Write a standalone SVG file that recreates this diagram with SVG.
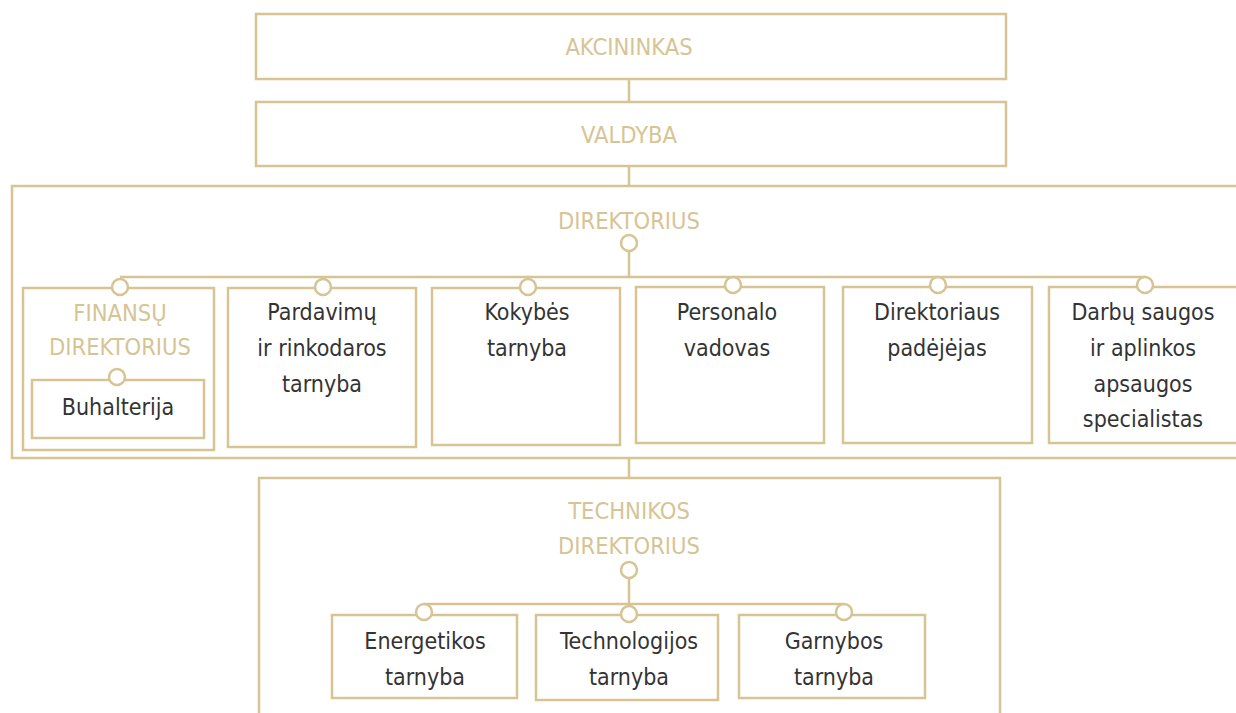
<svg xmlns="http://www.w3.org/2000/svg" width="1236" height="713" viewBox="0 0 1236 713">
<style>
.box{fill:none;stroke:#d6c495;stroke-width:2.5}
.ln{stroke:#d6c495;stroke-width:2.5;fill:none}
.dot{fill:#fff;stroke:#d6c495;stroke-width:2.5}
text{font-family:"DejaVu Sans Condensed","DejaVu Sans",sans-serif;font-stretch:condensed;font-size:23px;text-anchor:middle}
.g{fill:#d6c495;font-size:23.5px}
.d{fill:#333}
</style>
<rect width="1236" height="713" fill="#fff"/>
<g id="connectors">
<line class="ln" x1="629" y1="79" x2="629" y2="102"/>
<line class="ln" x1="629" y1="166" x2="629" y2="186"/>
<line class="ln" x1="629" y1="251" x2="629" y2="277"/>
<line class="ln" x1="120" y1="277" x2="1145" y2="277"/>
<line class="ln" x1="629" y1="458" x2="629" y2="478"/>
<line class="ln" x1="629" y1="578" x2="629" y2="604"/>
<line class="ln" x1="424" y1="604" x2="844" y2="604"/>
</g>
<g id="akcininkas">
<rect class="box" x="256" y="14" width="750" height="65"/>
<text class="g" x="629" y="55">AKCININKAS</text>
</g>
<g id="valdyba">
<rect class="box" x="256" y="102" width="750" height="64"/>
<text class="g" x="629" y="143">VALDYBA</text>
</g>
<g id="direktorius">
<rect class="box" x="12" y="186" width="1240" height="272"/>
<text class="g" x="629" y="229">DIREKTORIUS</text>
<circle class="dot" cx="629" cy="243" r="8"/>
</g>
<g id="finansu">
<rect class="box" x="23" y="288" width="191" height="162"/>
<circle class="dot" cx="120" cy="287" r="8"/>
<text class="g" x="120" y="321">FINANSŲ</text>
<text class="g" x="120" y="355">DIREKTORIUS</text>
</g>
<g id="buhalterija">
<rect class="box" x="32" y="380" width="172" height="58"/>
<circle class="dot" cx="117" cy="377" r="8"/>
<text class="d" x="118" y="415">Buhalterija</text>
</g>
<g id="pardavimu">
<rect class="box" x="228" y="288" width="188" height="159"/>
<circle class="dot" cx="323" cy="287" r="8"/>
<text class="d" x="322" y="320">Pardavimų</text>
<text class="d" x="322" y="356">ir rinkodaros</text>
<text class="d" x="322" y="392">tarnyba</text>
</g>
<g id="kokybes">
<rect class="box" x="432" y="288" width="188" height="157"/>
<circle class="dot" cx="528" cy="287" r="8"/>
<text class="d" x="527" y="320">Kokybės</text>
<text class="d" x="527" y="356">tarnyba</text>
</g>
<g id="personalo">
<rect class="box" x="636" y="287" width="188" height="156"/>
<circle class="dot" cx="733" cy="285" r="8"/>
<text class="d" x="727" y="320">Personalo</text>
<text class="d" x="727" y="356">vadovas</text>
</g>
<g id="padejejas">
<rect class="box" x="843" y="287" width="189" height="156"/>
<circle class="dot" cx="938" cy="285" r="8"/>
<text class="d" x="937" y="320">Direktoriaus</text>
<text class="d" x="937" y="356">padėjėjas</text>
</g>
<g id="darbu">
<rect class="box" x="1049" y="287" width="200" height="156"/>
<circle class="dot" cx="1145" cy="285" r="8"/>
<text class="d" x="1143" y="320">Darbų saugos</text>
<text class="d" x="1143" y="356">ir aplinkos</text>
<text class="d" x="1143" y="392">apsaugos</text>
<text class="d" x="1143" y="427">specialistas</text>
</g>
<g id="technikos">
<rect class="box" x="259" y="478" width="741" height="245"/>
<text class="g" x="629" y="519">TECHNIKOS</text>
<text class="g" x="629" y="554">DIREKTORIUS</text>
<circle class="dot" cx="629" cy="570" r="8"/>
</g>
<g id="energetikos">
<rect class="box" x="332" y="615" width="185" height="83"/>
<circle class="dot" cx="424" cy="612" r="8"/>
<text class="d" x="425" y="649">Energetikos</text>
<text class="d" x="425" y="685">tarnyba</text>
</g>
<g id="technologijos">
<rect class="box" x="536" y="615" width="182" height="85"/>
<circle class="dot" cx="629" cy="614" r="8"/>
<text class="d" x="629" y="649">Technologijos</text>
<text class="d" x="629" y="685">tarnyba</text>
</g>
<g id="gamybos">
<rect class="box" x="739" y="615" width="186" height="83"/>
<circle class="dot" cx="844" cy="612" r="8"/>
<text class="d" x="834" y="649">Garnybos</text>
<text class="d" x="834" y="685">tarnyba</text>
</g>
</svg>
